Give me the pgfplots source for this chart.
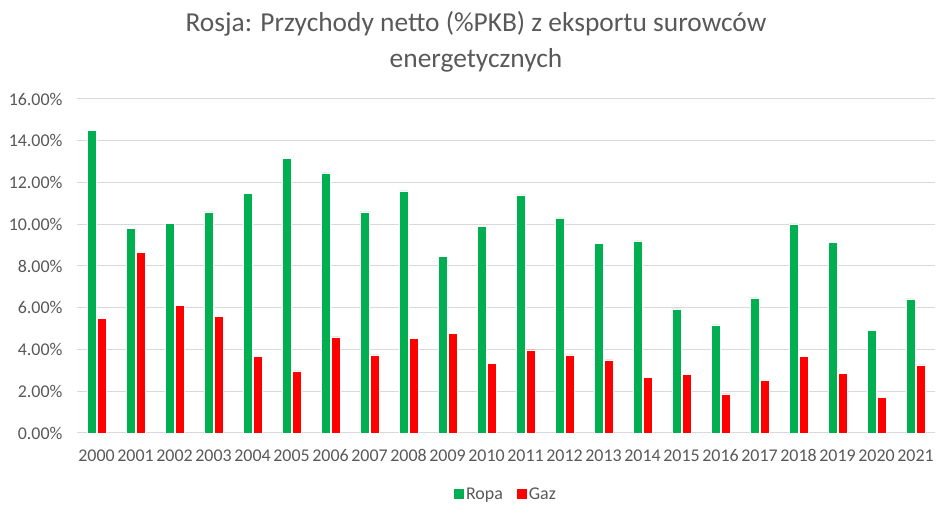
\documentclass[border=0pt]{standalone}
\usepackage{pgfplots}
\pgfplotsset{compat=1.18}
\usepackage{fontspec}
\setmainfont{Carlito}
\definecolor{ropa}{HTML}{00B050}
\definecolor{gaz}{HTML}{FF0000}
\definecolor{txt}{HTML}{595959}
\definecolor{gridc}{HTML}{D9D9D9}
\begin{document}
\begin{tikzpicture}[x=1bp,y=1bp]
\path[fill=white] (0,0) rectangle (948,515);
\node[text=txt,font=\fontsize{27.5}{36}\selectfont,align=center] at (476,473) {Rosja: Przychody netto (\%PKB) z eksportu surowców\\energetycznych};
\begin{axis}[
  at={(77bp,82bp)}, anchor=south west,
  width=858bp, height=334bp, scale only axis,
  ybar, bar width=8.5bp,
  ymin=0, ymax=16,
  xmin=-0.5, xmax=21.5,
  ytick={0,2,...,16},
  yticklabels={0.00\%,2.00\%,4.00\%,6.00\%,8.00\%,10.00\%,12.00\%,14.00\%,16.00\%},
  xtick=data,
  xticklabels={2000,2001,2002,2003,2004,2005,2006,2007,2008,2009,2010,2011,2012,2013,2014,2015,2016,2017,2018,2019,2020,2021},
  major tick length=0,
  axis line style={draw=none},
  ymajorgrids, xmajorgrids=false, grid style={draw=gridc, line width=1bp},
  tick label style={text=txt, font=\fontsize{18}{20}\selectfont},
  yticklabel style={xshift=-11bp},
  xticklabel style={yshift=-13bp},
  /pgf/number format/assume math mode=true,
  legend style={at={(0.5,-0.183)}, anchor=center, draw=none, legend columns=2,
    font=\fontsize{18}{20}\selectfont, text=txt,
    /tikz/every even column/.append style={column sep=12bp}},
  legend image code/.code={\draw[#1,draw=none] (0bp,-5bp) rectangle (10bp,5bp);},
]
\addplot[fill=ropa, draw=white, line width=0.5bp, bar shift=-5bp] coordinates {
(0,14.50) (1,9.79) (2,10.03) (3,10.59) (4,11.47) (5,13.16) (6,12.46) (7,10.59) (8,11.60) (9,8.45)
(10,9.90) (11,11.41) (12,10.30) (13,9.09) (14,9.20) (15,5.94) (16,5.18) (17,6.47) (18,10.02) (19,9.14) (20,4.90) (21,6.42)};
\addplot[fill=gaz, draw=white, line width=0.5bp, bar shift=5bp] coordinates {
(0,5.48) (1,8.67) (2,6.12) (3,5.59) (4,3.67) (5,2.97) (6,4.60) (7,3.74) (8,4.55) (9,4.78)
(10,3.32) (11,3.98) (12,3.74) (13,3.50) (14,2.68) (15,2.81) (16,1.87) (17,2.51) (18,3.67) (19,2.86) (20,1.71) (21,3.26)};
\legend{Ropa,Gaz}
\end{axis}
\end{tikzpicture}
\end{document}
